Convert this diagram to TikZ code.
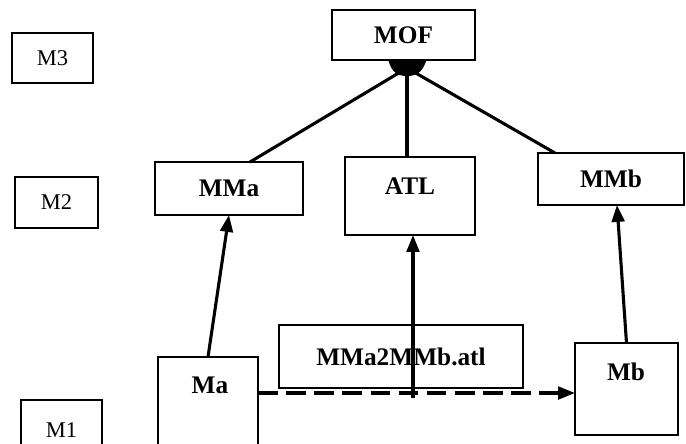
\documentclass[tikz,border=0pt]{standalone}
\usepackage{fontspec}
\setmainfont{Liberation Serif}
\usetikzlibrary{arrows.meta,calc}

\tikzset{
  box/.style={draw, line width=1.6pt, inner sep=0pt, outer sep=0pt},
  bigtext/.style={font=\fontsize{18}{21}\selectfont\bfseries},
  leveltext/.style={font=\fontsize{16}{19}\selectfont},
  link/.style={line width=2.2pt},
  arr/.style={line width=2.2pt, -{Triangle[length=12pt, width=9pt]}},
  dasharr/.style={arr, dash pattern=on 14pt off 6pt},
}

\begin{document}
\begin{tikzpicture}[x=0.025cm, y=-0.025cm]
  \useasboundingbox (0,0) rectangle (686,443);
  \clip (0,0) rectangle (686,443);

  % meta-level labels
  \node[box, leveltext, minimum width=2.025cm, minimum height=1.25cm]  (m3) at (52.5,58)   {M3};
  \node[box, leveltext, minimum width=2.075cm, minimum height=1.275cm] (m2) at (56.5,202.5) {M2};
  \node[box, minimum width=2.025cm, minimum height=1.4cm]              (m1) at (61.5,428)  {};
  \node[leveltext] (m1t) at (61.5,430) {M1};

  % metametamodel and metamodels
  \node[box, bigtext, minimum width=3.575cm, minimum height=1.25cm]  (mof) at (403.5,35)  {MOF};
  \node[box, bigtext, minimum width=3.7cm,   minimum height=1.325cm] (mma) at (229,188.5) {MMa};
  \node[box, minimum width=3.25cm, minimum height=1.95cm]            (atl) at (410,196)   {};
  \node[bigtext] (atlt) at (410,186) {ATL};
  \node[box, bigtext, minimum width=3.65cm,  minimum height=1.3cm]   (mmb) at (611,179)   {MMb};

  % models and transformation
  \node[box, bigtext, minimum width=6.1cm, minimum height=1.575cm] (trf) at (401,356.5) {MMa2MMb.atl};
  \node[box, minimum width=2.5cm,   minimum height=2.575cm] (ma) at (208,408.5) {};
  \node[bigtext] (mat) at (210,385) {Ma};
  \node[box, minimum width=2.575cm, minimum height=2.3cm]   (mb) at (626.5,389) {};
  \node[bigtext] (mbt) at (626,372) {Mb};

  % conformance hub under MOF
  \coordinate (hub) at (407,68);
  \fill (388,59) -- (427,59) .. controls (423,70) and (419,76) .. (407,76)
        .. controls (395,76) and (391,70) .. (388,59) -- cycle;
  \draw[link] (hub) -- ($(mma.north)+(21,0)$);
  \draw[link] (hub) -- (atl.north -| hub);
  \draw[link] (hub) -- ($(mmb.north west)+(17,0)$);

  % conformance of models to metamodels
  \draw[arr] (ma.north) -- (mma.south);
  \draw[arr] (mb.north) -- ($(mmb.south)+(6,0)$);

  % transformation execution
  \coordinate (dashy) at (0,393);
  \draw[dasharr] (ma.east |- dashy) -- (mb.west |- dashy);
  \coordinate (foot) at (413,398);
  \draw[arr] (foot) -- (atl.south -| foot);
\end{tikzpicture}
\end{document}
